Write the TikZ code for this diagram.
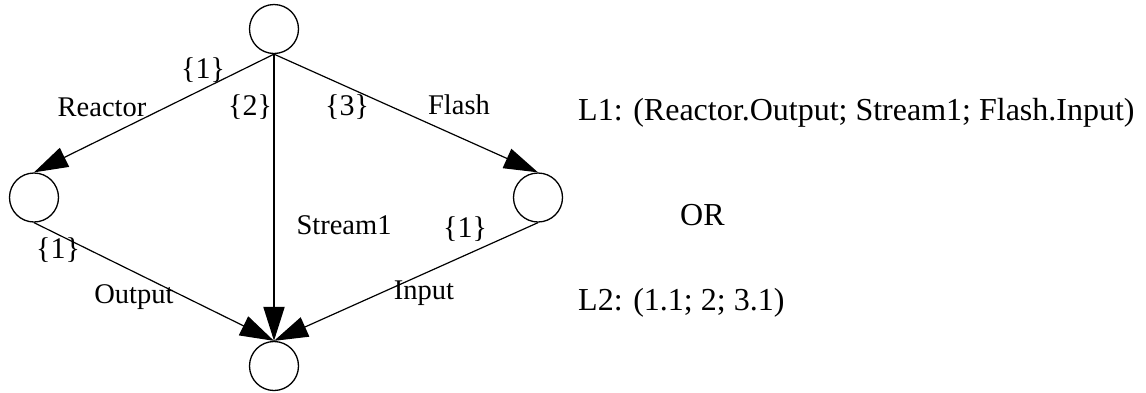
\documentclass[tikz,border=0pt]{standalone}
\usepackage{fontspec}
\setmainfont{Liberation Serif}
\usetikzlibrary{arrows.meta}
\tikzset{
  vert/.style={circle,draw,line width=1.3pt,minimum size=49pt,inner sep=0pt},
  edge/.style={line width=1.2pt,-{Triangle[length=34pt,width=21pt]}},
  lbl/.style={anchor=base,inner sep=0pt,font=\fontsize{28.5}{30}\selectfont},
  idx/.style={anchor=base,inner sep=0pt,font=\fontsize{30}{32}\selectfont},
  txt/.style={anchor=base west,inner sep=0pt,font=\fontsize{32}{34}\selectfont}
}
\begin{document}
\begin{tikzpicture}[x=1pt,y=-1pt]
\useasboundingbox (0,0) rectangle (1146,392);
\node[vert] (top) at (274,29) {};
\node[vert] (left) at (34,197.5) {};
\node[vert] (right) at (538,197.5) {};
\node[vert] (bot) at (274,366) {};
\draw[edge] (top.south) -- (left.north);
\draw[edge] (top.south) -- (right.north);
\draw[edge,line width=2pt] (top.south) -- (bot.north);
\draw[edge] (left.south) -- (bot.north);
\draw[edge] (right.south) -- (bot.north);
\node[idx] (i1) at (203,78) {\{1\}};
\node[lbl] (reactor) at (102,116) {Reactor};
\node[idx] (i2) at (250,115) {\{2\}};
\node[idx] (i3) at (347,115) {\{3\}};
\node[lbl] (flash) at (459,114) {Flash};
\node[lbl] (stream) at (344,234) {Stream1};
\node[idx] (i4) at (465,237) {\{1\}};
\node[idx] (i5) at (58,258) {\{1\}};
\node[lbl] (output) at (134,303) {Output};
\node[lbl] (input) at (424,299) {Input};
\node[txt] (l1) at (578,120) {L1: (Reactor.Output; Stream1; Flash.Input)};
\node[txt] (or) at (680,225) {OR};
\node[txt] (l2) at (578,310) {L2: (1.1; 2; 3.1)};
\end{tikzpicture}
\end{document}
